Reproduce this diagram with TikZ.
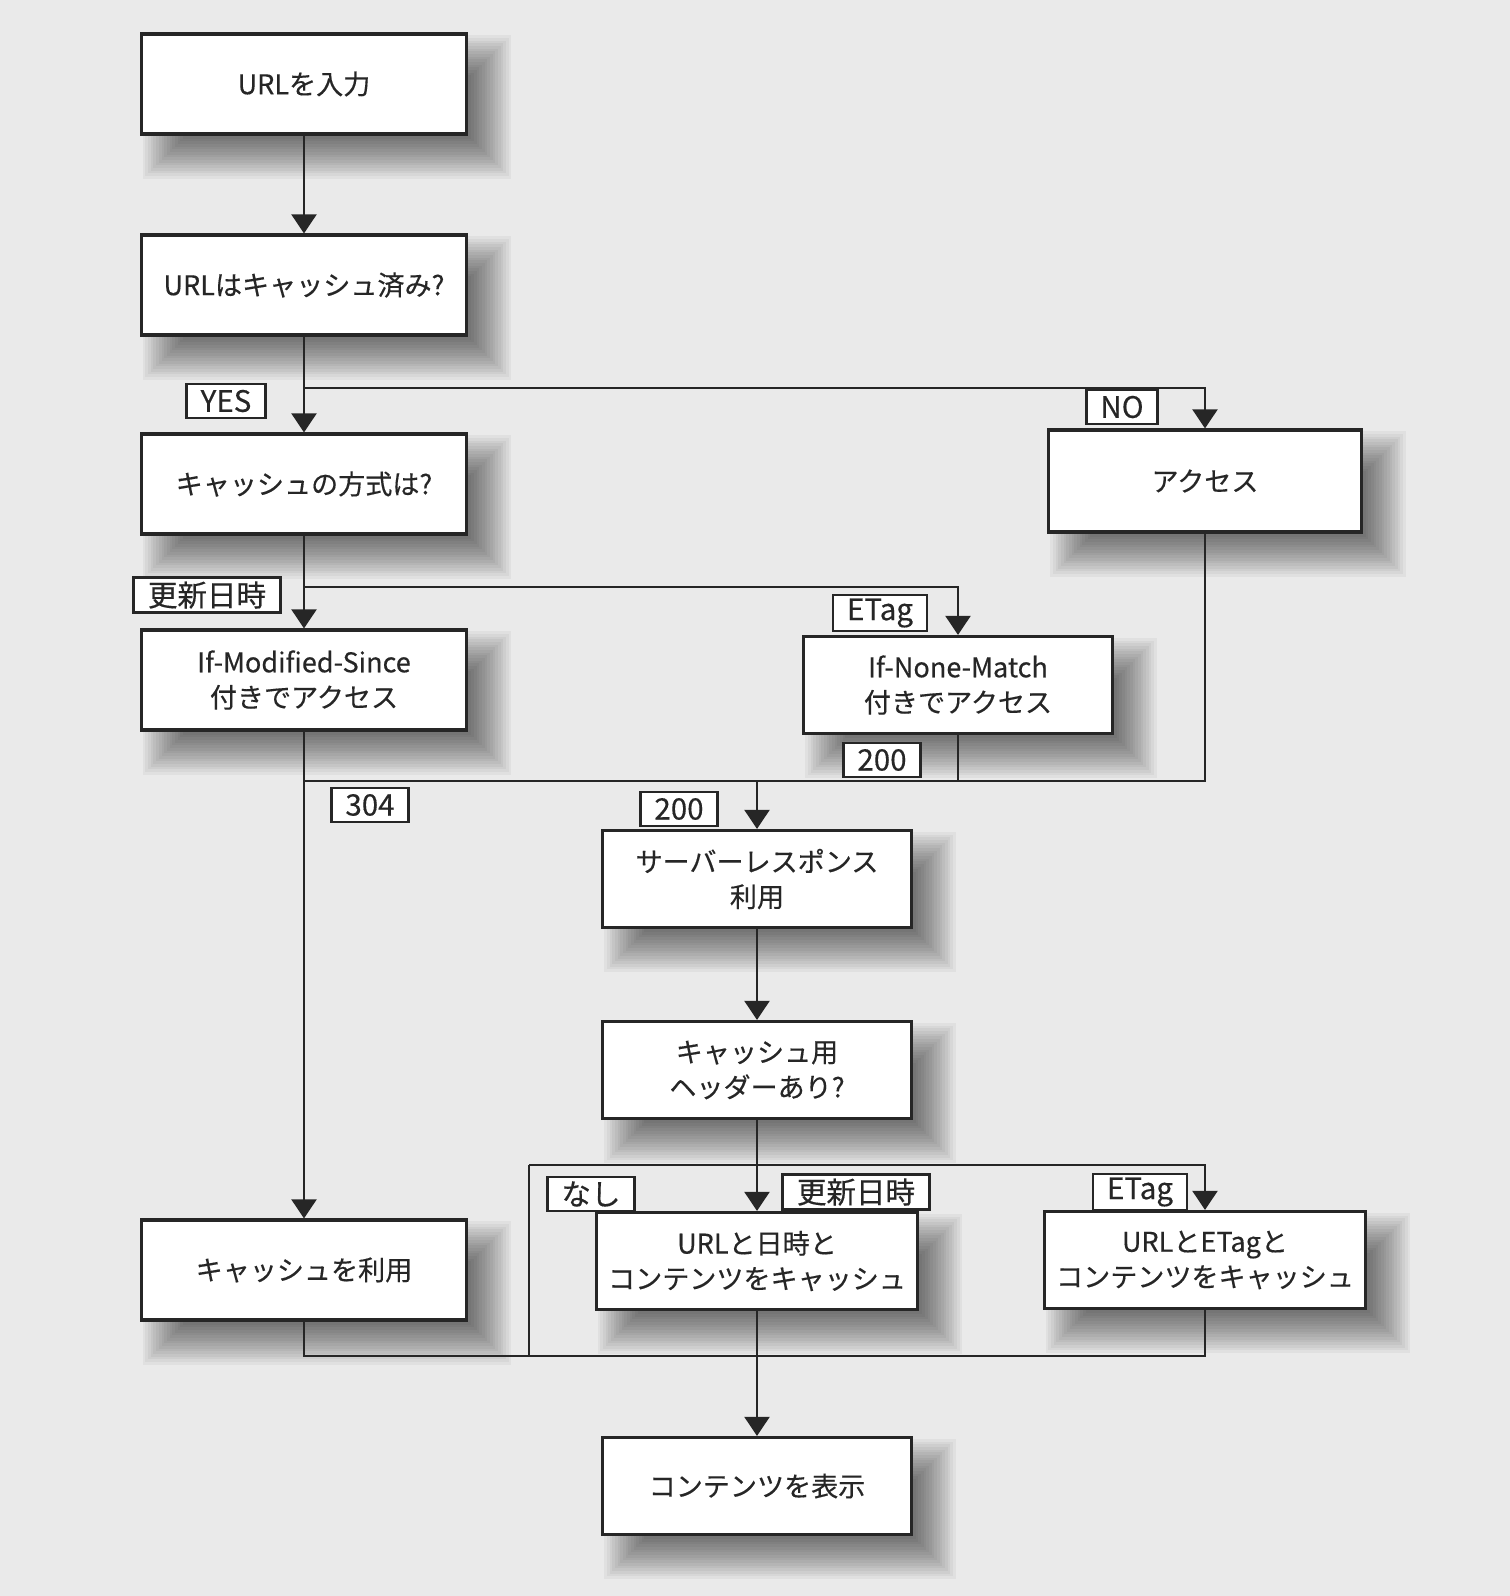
\documentclass[tikz,border=0pt]{standalone}
\usepackage{fontspec}
\setmainfont{Noto Sans CJK JP}[FakeBold=0.35]
\usepackage{tikz}
\usepackage{xcolor}
\usetikzlibrary{arrows.meta,backgrounds}
\definecolor{ink}{HTML}{262626}
\definecolor{paper}{HTML}{EAEAEA}

\begin{document}
\begin{tikzpicture}[x=0.01cm,y=-0.01cm,
		box/.style={draw=ink,line width=0.9pt,fill=white,align=center,text=ink,
			minimum width=3.08cm,minimum height=0.97cm,font=\fontsize{7.7}{10}\selectfont},
		wbox/.style={box,minimum width=3.25cm,minimum height=1.0cm},
		tag/.style={draw=ink,line width=0.8pt,fill=white,text=ink,font=\fontsize{8.4}{9}\selectfont,
			inner xsep=4pt,inner ysep=1pt,minimum height=0.34cm},
		wire/.style={draw=ink,line width=0.6pt},
		arr/.style={wire,-{Triangle[length=0.19cm,width=0.25cm]}}]
		\begin{scope}[on background layer]
			\fill[paper] (0,0) rectangle (1510,1596);
		\end{scope}
		\useasboundingbox (0,0) rectangle (1510,1596);

		% boxes
		\node[wbox] (in) at (304,84) {URLを入力};
		\node[wbox] (cached) at (304,285) {URLはキャッシュ済み?};
		\node[wbox] (kind) at (304,484) {キャッシュの方式は?};
		\node[box,minimum width=3.12cm,minimum height=1.02cm] (acc) at (1205,481) {アクセス};
		\node[wbox] (ims) at (304,680) {If-Modified-Since\\付きでアクセス};
		\node[box] (inm) at (958,685) {If-None-Match\\付きでアクセス};
		\node[box] (resp) at (757,879) {サーバーレスポンス\\利用};
		\node[box] (hdr) at (757,1070) {キャッシュ用\\ヘッダーあり?};
		\node[wbox] (usec) at (304,1270) {キャッシュを利用};
		\node[box] (savedate) at (757,1261) {URLと日時と\\コンテンツをキャッシュ};
		\node[box] (savetag) at (1205,1260) {URLとETagと\\コンテンツをキャッシュ};
		\node[box] (show) at (757,1486) {コンテンツを表示};

		% soft shadows
		\begin{scope}[on background layer]
			\foreach \n in {in,cached,kind,acc,ims,inm,resp,hdr,usec,savedate,savetag,show}{
				\foreach \k in {0,...,15}{
					\pgfmathsetmacro\a{0.23+0.2-0.4*\k/15}
					\pgfmathsetmacro\b{0.23-0.2+0.4*\k/15}
					\fill[black,opacity=0.04] ([xshift=\a cm,yshift=-\a cm]\n.north west) rectangle ([xshift=\b cm,yshift=-\b cm]\n.south east);
				}
			}
		\end{scope}

		% branch points
		\coordinate (b1) at (304,388);
		\coordinate (b2) at (304,587);
		\coordinate (m1) at (304,781);
		\coordinate (b3) at (529,1165);
		\coordinate (m2) at (304,1356);

		\draw[arr] (in) -- (cached);
		\draw[arr] (cached) -- (kind);
		\draw[arr] (b1) -| (acc);
		\draw[arr] (kind) -- (ims);
		\draw[arr] (b2) -| (inm);
		\draw[arr] (ims) -- (usec);
		\draw[wire] (m1) -- (acc |- m1) -- (acc);
		\draw[wire] (inm) -- (inm |- m1);
		\draw[arr] (resp |- m1) -- (resp);
		\draw[arr] (resp) -- (hdr);
		\draw[arr] (hdr) -- (savedate);
		\draw[wire] (b3) -- (b3 |- m2);
		\draw[arr] (b3) -| (savetag);
		\draw[wire] (usec) -- (usec |- m2) -- (savetag |- m2) -- (savetag);
		\draw[arr] (savedate) -- (show);

		% labels
		\node[tag] (tyes) at (226,401) {YES};
		\node[tag] (tno) at (1122,407) {NO};
		\node[tag] (tdate) at (207,595) {更新日時};
		\node[tag] (tetag) at (880,613) {ETag};
		\node[tag] (t200a) at (882,760) {200};
		\node[tag] (t304) at (370,805) {304};
		\node[tag] (t200b) at (679,809) {200};
		\node[tag] (tnone) at (591,1194) {なし};
		\node[tag] (tdate2) at (856,1192) {更新日時};
		\node[tag] (tetag2) at (1140,1192) {ETag};
	\end{tikzpicture}
\end{document}
